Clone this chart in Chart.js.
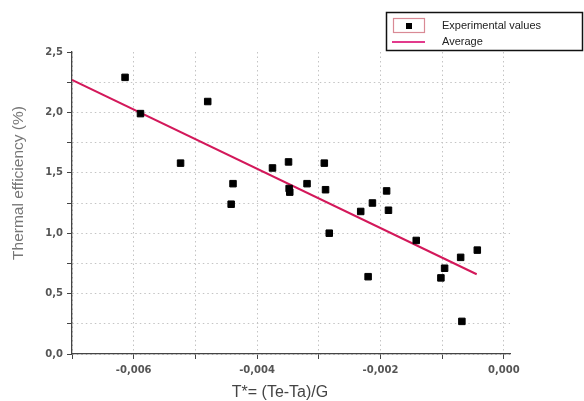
<!DOCTYPE html>
<html>
<head>
<meta charset="utf-8">
<script src="https://cdn.jsdelivr.net/npm/chart.js@4"></script>
<style>
    html, body { margin: 0; padding: 0; background: #fff; }
</style>
</head>
<body>
<canvas id="efficiencyChart" width="584" height="401"></canvas>
<script>
const expX = [-0.00614, -0.00589, -0.00480, -0.00524, -0.00439, -0.00442, -0.00375, -0.00349, -0.00348, -0.00347,
    -0.00319, -0.00291, -0.00289, -0.00283, -0.00232, -0.00213, -0.00190, -0.00187, -0.00220, -0.00142,
    -0.00096, -0.00102, -0.00070, -0.00043, -0.00068]
const expY = [2.29, 1.99, 2.09, 1.58, 1.41, 1.24, 1.54, 1.59, 1.37, 1.34,
    1.41, 1.58, 1.36, 1.00, 1.18, 1.25, 1.35, 1.19, 0.64, 0.94,
    0.71, 0.63, 0.80, 0.86, 0.27]

// fitted average line, two end points
const avgX = [-0.007, -0.00044]
const avgY = [2.27, 0.66]

const xTicks = [-0.007, -0.006, -0.005, -0.004, -0.003, -0.002, -0.001, 0]
const yTicks = [0, 0.25, 0.5, 0.75, 1, 1.25, 1.5, 1.75, 2, 2.25, 2.5]

const legendLabels = ['Experimental values', 'Average']
const xTitle = 'T*= (Te-Ta)/G'
const yTitle = 'Thermal efficiency (%)'

const lineColor = '#d3185a'
const tickFont = {size: 10, weight: 'bold', family: "'DejaVu Sans', sans-serif"}

document.addEventListener("DOMContentLoaded", function () {
    const canvas = document.getElementById("efficiencyChart")

    // legend box and axis titles, placed like in the original figure
    const decorations = {
        id: 'decorations',
        afterDraw(chart) {
            const ctx = chart.ctx
            ctx.save()
            ctx.strokeStyle = '#111'
            ctx.lineWidth = 1.5
            ctx.strokeRect(386.5, 12.5, 196, 38)

            // marker sample
            ctx.strokeStyle = '#d98a95'
            ctx.lineWidth = 1.2
            ctx.strokeRect(393.5, 18.5, 31, 14)
            ctx.fillStyle = '#000'
            ctx.fillRect(406, 23, 6, 6)

            // line sample
            ctx.strokeStyle = '#e23a8c'
            ctx.lineWidth = 2
            ctx.beginPath()
            ctx.moveTo(392, 42)
            ctx.lineTo(425, 42)
            ctx.stroke()

            ctx.fillStyle = '#222'
            ctx.font = "11px 'Liberation Sans', Arial, sans-serif"
            ctx.textBaseline = 'middle'
            ctx.fillText(legendLabels[0], 442, 26)
            ctx.fillText(legendLabels[1], 442, 42)

            // x title
            ctx.fillStyle = '#444'
            ctx.font = "16px 'Liberation Sans', Arial, sans-serif"
            ctx.textAlign = 'center'
            ctx.fillText(xTitle, 280, 393)

            // y title
            ctx.fillStyle = '#777'
            ctx.font = "15.5px 'Liberation Sans', Arial, sans-serif"
            ctx.translate(19, 183)
            ctx.rotate(-Math.PI / 2)
            ctx.fillText(yTitle, 0, 0)
            ctx.restore()
        }
    }

    const gridColor = (context) => {
        if (context.tick && context.tick.value === 2.5) {
            return 'transparent'
        }
        return '#c4c4c4'
    }

    const config = {
        type: 'scatter',
        data: {
            datasets: [
                {
                    label: legendLabels[0],
                    data: expX.map((x, i) => ({x: x, y: expY[i]})),
                    pointStyle: 'rect',
                    pointRadius: 4.6,
                    backgroundColor: '#000',
                    borderColor: '#000',
                    borderWidth: 1,
                    order: 1,
                },
                {
                    type: 'line',
                    label: legendLabels[1],
                    data: avgX.map((x, i) => ({x: x, y: avgY[i]})),
                    borderColor: lineColor,
                    borderWidth: 2,
                    pointRadius: 0,
                    fill: false,
                    order: 2,
                },
            ]
        },
        options: {
            responsive: false,
            animation: false,
            layout: {
                padding: {left: 0, right: 74, top: 52, bottom: 0}
            },
            scales: {
                x: {
                    type: 'linear',
                    min: -0.007,
                    max: 0.0001,
                    afterBuildTicks: (scale) => {
                        scale.ticks = xTicks.map(v => ({value: v}))
                    },
                    afterFit: (scale) => {
                        scale.height = 47
                    },
                    grid: {
                        color: gridColor,
                        lineWidth: 1,
                        tickColor: '#444',
                        tickLength: 5,
                        tickBorderDash: [],
                    },
                    border: {
                        color: '#444',
                        width: 1.3,
                        dash: [1.5, 3],
                    },
                    ticks: {
                        padding: 5,
                        maxRotation: 0,
                        autoSkip: false,
                        color: '#555',
                        font: tickFont,
                        callback: (value) => {
                            if (Math.round(value * 1000) % 2 !== 0) {
                                return ''
                            }
                            return value.toFixed(3).replace('.', ',')
                        }
                    },
                },
                y: {
                    type: 'linear',
                    min: 0,
                    max: 2.5,
                    afterBuildTicks: (scale) => {
                        scale.ticks = yTicks.map(v => ({value: v}))
                    },
                    afterFit: (scale) => {
                        scale.width = 72
                    },
                    grid: {
                        color: gridColor,
                        lineWidth: 1,
                        tickColor: '#444',
                        tickLength: 5,
                        tickBorderDash: [],
                    },
                    border: {
                        color: '#444',
                        width: 1.3,
                        dash: [1.5, 3],
                    },
                    ticks: {
                        padding: 4,
                        autoSkip: false,
                        color: '#555',
                        font: tickFont,
                        callback: (value) => {
                            if (Math.round(value * 100) % 50 !== 0) {
                                return ''
                            }
                            return value.toFixed(1).replace('.', ',')
                        }
                    },
                }
            },
            plugins: {
                legend: {display: false},
                tooltip: {enabled: false},
            }
        },
        plugins: [decorations]
    }

    new Chart(canvas, config)
})
</script>
</body>
</html>
